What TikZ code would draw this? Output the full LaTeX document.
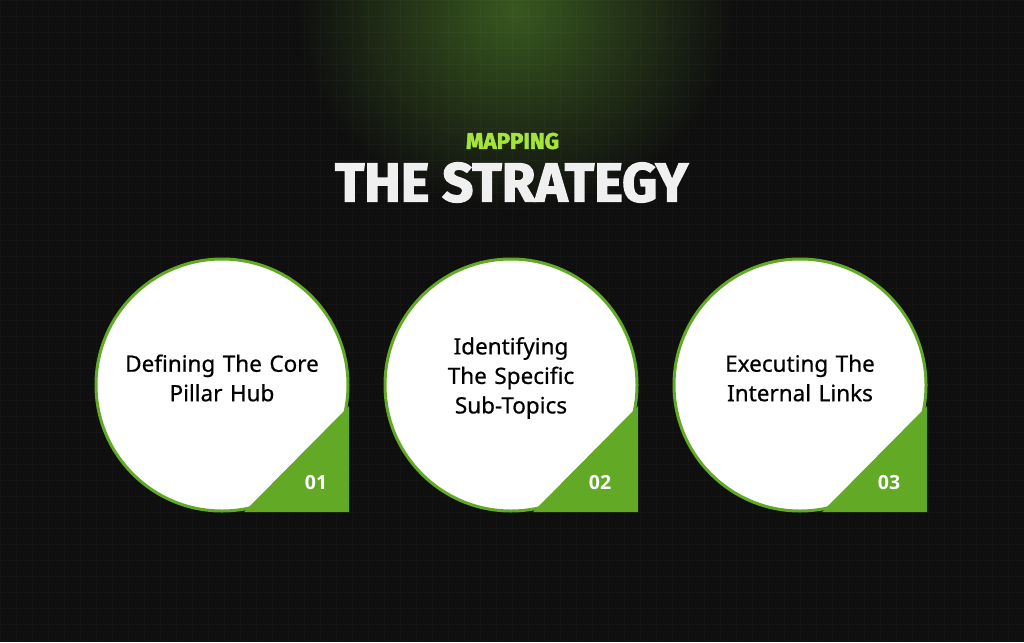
\documentclass[tikz,border=0pt]{standalone}
\usepackage{fontspec}
\setmainfont{Noto Sans}
\newfontfamily\stepfont[FakeBold=0.6]{Noto Sans}
\newfontfamily\numfont{Open Sans}
\newfontfamily\titlefont[FakeBold=2.5]{Fira Sans}
\usepackage{graphicx}
\definecolor{bg}{HTML}{0F0F0F}
\definecolor{glow}{HTML}{38581F}
\definecolor{ring}{HTML}{62AA25}
\definecolor{lime}{HTML}{A6E43C}
\definecolor{titlegray}{HTML}{F0F0F0}
\tikzset{
  stepcircle/.style={circle, minimum size=252pt, inner sep=0pt, draw=ring, line width=3pt, fill=white},
  steptext/.style={text width=240pt, align=center, text=black, font=\stepfont\fontsize{22.5}{29.5}\selectfont},
  stepnum/.style={text=white, font=\numfont\bfseries\fontsize{19.5}{19.5}\selectfont},
}
\begin{document}
\begin{tikzpicture}[x=1pt,y=-1pt]
\useasboundingbox (0,0) rectangle (1024,642);
\fill[bg] (0,0) rectangle (1024,642);
\begin{scope}
  \clip (0,0) rectangle (1024,642);
  \shade[inner color=glow, outer color=bg] (515,10) ellipse [x radius=220, y radius=200];
  \draw[white, opacity=0.025, line width=0.6pt, step=16pt] (0,0) grid (1024,642);
\end{scope}

\node[text=lime, inner sep=0pt] (sub) at (512.5,141) {\resizebox{93pt}{16pt}{\titlefont\bfseries MAPPING}};
\node[text=titlegray, inner sep=0pt] (title) at (511.5,182.5) {\resizebox{353pt}{39pt}{\titlefont\bfseries THE STRATEGY}};

\node[stepcircle] (c1) at (222,385) {};
\node[stepcircle] (c2) at (511,385) {};
\node[stepcircle] (c3) at (800,385) {};

\fill[ring] ([shift={(127,21)}]c1.center) -- ([shift={(127,127)}]c1.center) -- ([shift={(22,127)}]c1.center) -- cycle;
\fill[ring] ([shift={(127,21)}]c2.center) -- ([shift={(127,127)}]c2.center) -- ([shift={(22,127)}]c2.center) -- cycle;
\fill[ring] ([shift={(127,21)}]c3.center) -- ([shift={(127,127)}]c3.center) -- ([shift={(22,127)}]c3.center) -- cycle;

\node[steptext] (t1) at (222,378) {Defining The Core\\Pillar Hub};
\node[steptext] (t2) at (511,378) {Identifying\\The Specific\\Sub-Topics};
\node[steptext] (t3) at (800,378) {Executing The\\Internal Links};

\node[stepnum] (n1) at (316,483) {01};
\node[stepnum] (n2) at (600,483) {02};
\node[stepnum] (n3) at (889,483) {03};
\end{tikzpicture}
\end{document}
